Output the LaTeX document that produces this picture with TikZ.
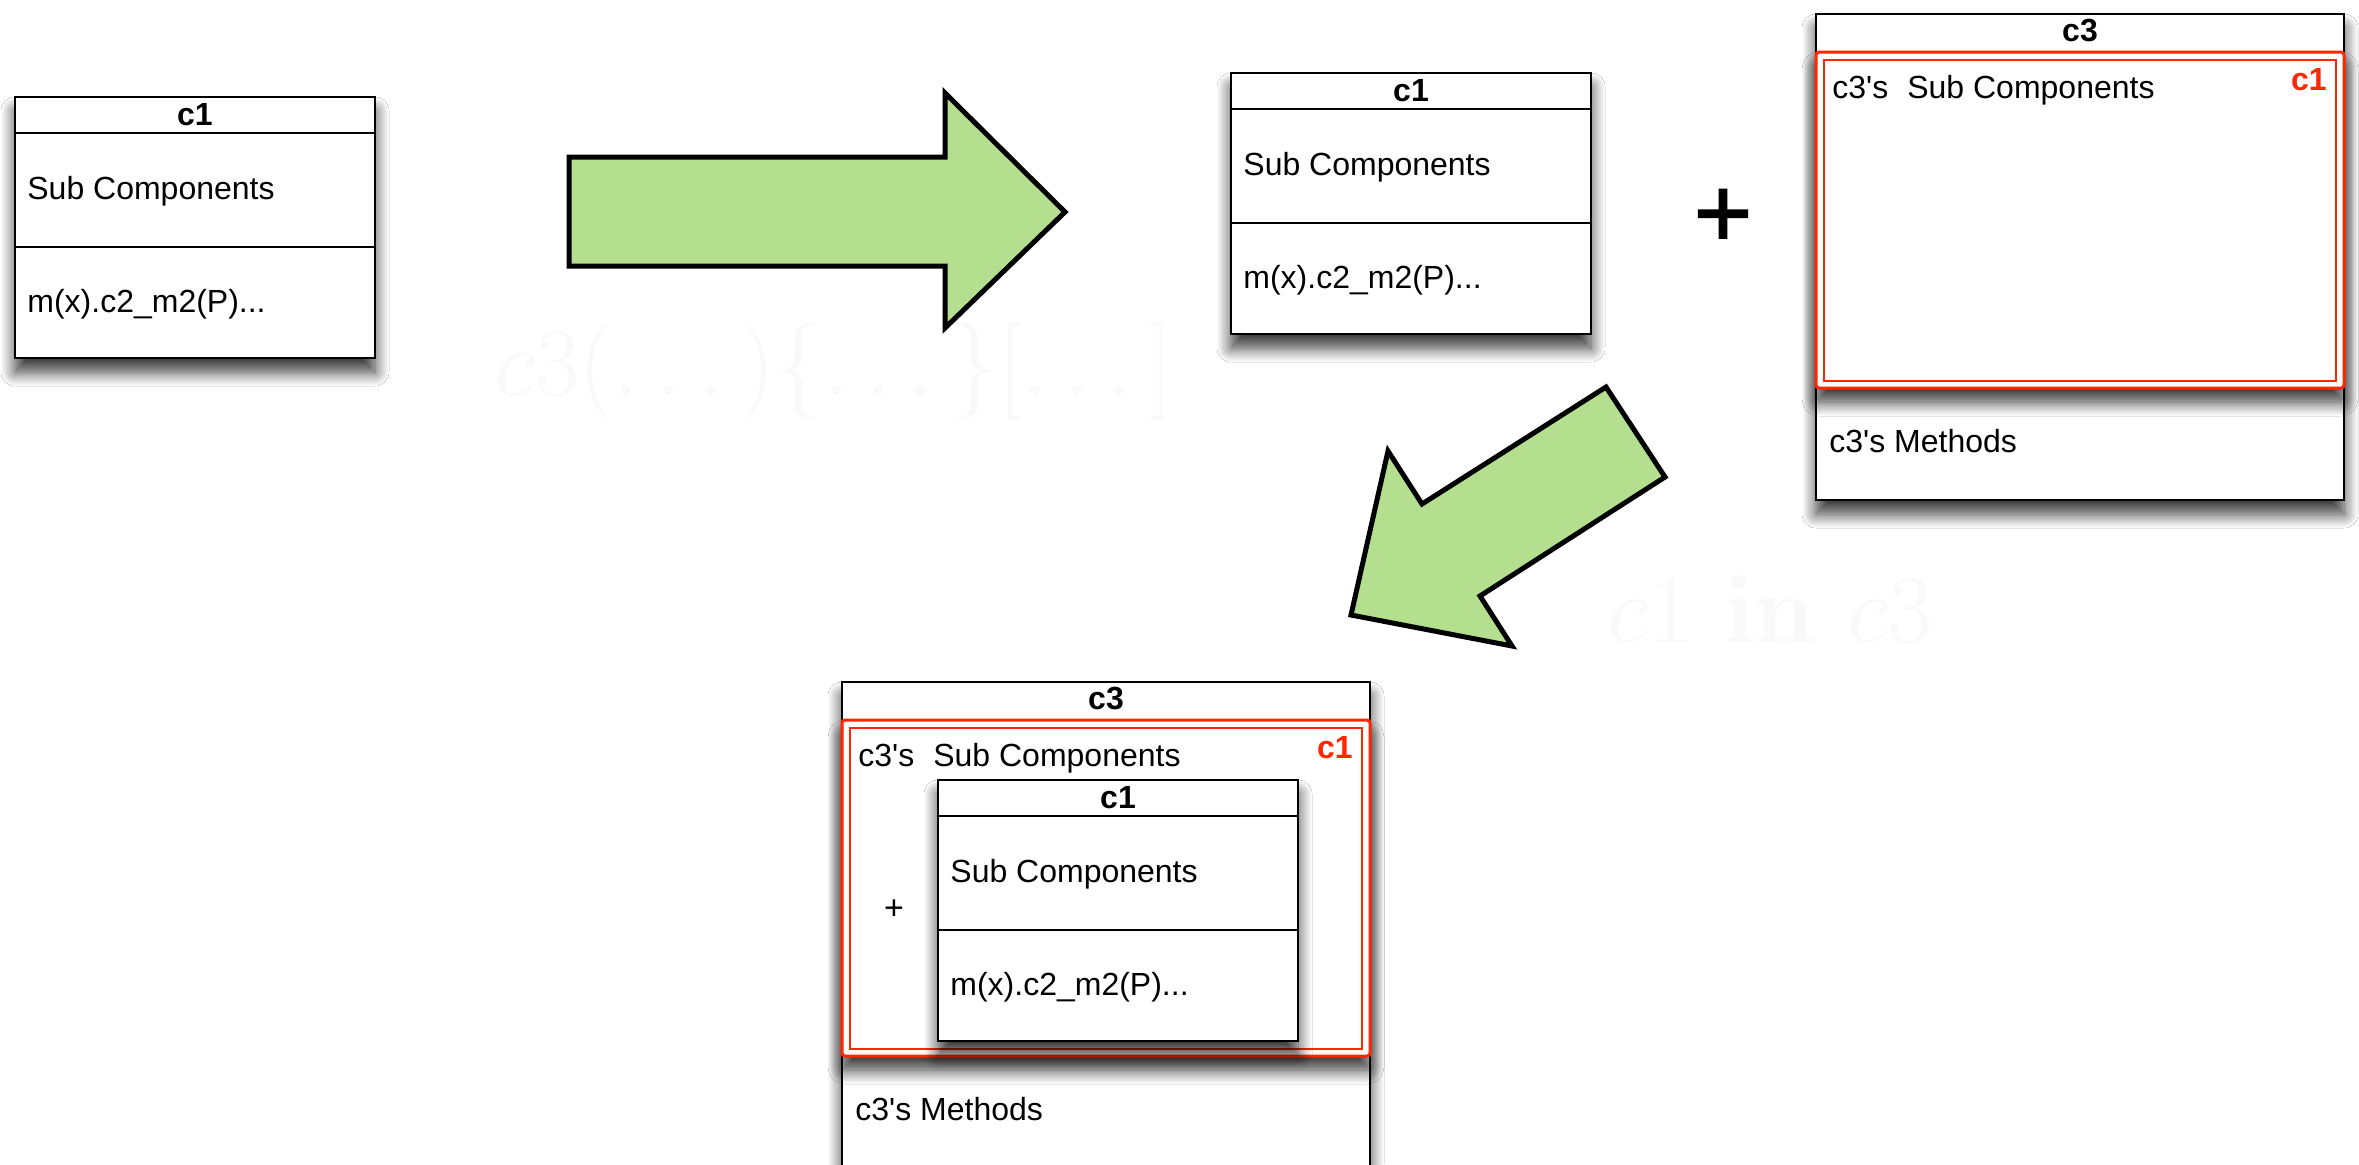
\documentclass[tikz,border=0pt]{standalone}
\usepackage[no-math]{fontspec}
\setmainfont{Liberation Sans}
\usetikzlibrary{shadows.blur}

\definecolor{arrowgreen}{RGB}{180,223,143}
\definecolor{framered}{RGB}{255,38,0}
\definecolor{ghost}{RGB}{249,249,249}

% large math captions: set at \Huge and enlarged
\newcommand{\bigcaption}[1]{\scalebox{1.94}{\Huge$#1$}}

\tikzset{
  boxline/.style={draw=black, line width=1.3pt},
  shadowed/.style={blur shadow={shadow xshift=0pt, shadow yshift=-7pt,
      shadow blur radius=7pt, shadow blur steps=12, shadow opacity=80}},
  title/.style={font=\fontsize{16}{19}\selectfont\bfseries, inner sep=0pt, anchor=base},
  entry/.style={font=\fontsize{16}{19}\selectfont, inner sep=0pt, anchor=base west},
  redtag/.style={font=\fontsize{16}{19}\selectfont\bfseries, text=framered,
      inner sep=0pt, anchor=base east},
  bigarrow/.style={fill=arrowgreen, draw=black, line width=2.5pt, line join=miter},
  ghosttext/.style={text=ghost, inner sep=0pt, anchor=base},
  redframe/.style={draw=framered, line width=1.5pt, rounded corners=1.5pt, fill=white},
  redinner/.style={draw=framered, line width=1pt},
  % class box c1: title, sub components, methods
  c1box/.pic={
    \draw[boxline, fill=white, shadowed] (0,0) rectangle (360,261);
    \draw[boxline] (0,36) -- (360,36) (0,150) -- (360,150);
    \node[title] (-title) at (180,28) {c1};
    \node[entry] (-sub) at (12,102) {Sub Components};
    \node[entry] (-meth) at (12,215) {m(x).c2\_m2(P)...};
  },
  % class box c3 with its red sub-component frame
  c3box/.pic={
    \draw[boxline, fill=white, shadowed] (0,0) rectangle (528,486);
    \draw[redframe, shadowed] (0,38) rectangle (528,374);
    \draw[redinner] (8,46) rectangle (520,367);
    \node[title] (-title) at (264,27) {c3};
    \node[entry] (-sub) at (16,84) {c3\textquotesingle s\hspace{9.5pt}Sub Components};
    \node[redtag] (-tag) at (511,76) {c1};
    \node[entry] (-meth) at (13,438) {c3\textquotesingle s Methods};
  },
}

\begin{document}
\begin{tikzpicture}[x=0.5pt, y=-0.5pt]
  \useasboundingbox (0,0) rectangle (2359,1164);
  \clip (0,0) rectangle (2359,1164);
  \fill[white] (0,0) rectangle (2359,1164);

  % faint captions
  \node[ghosttext] (sig) at (834,395)
    {\bigcaption{c3(\ldots\,)\{\ldots\,\}[\ldots\,]}};
  \node[ghosttext] (where) at (1770,642)
    {\bigcaption{c1\mkern6mu\mathbf{in}\mkern6mu c3}};

  % the component c1 on its own
  \pic (first) at (15,97) {c1box};

  % step arrow to the right
  \draw[bigarrow] (569,157) -- (945,157) -- (945,93) -- (1065,212)
    -- (945,328) -- (945,266) -- (569,266) -- cycle;

  % c1 plus the frame of c3
  \pic (second) at (1231,73) {c1box};
  \node[font=\fontsize{50}{60}\selectfont\addfontfeature{FakeBold=1.5},
        inner sep=0pt, anchor=base] (plus) at (1723,247) {+};
  \pic (host) at (1816,14) {c3box};

  % step arrow down to the left
  \draw[bigarrow] (1606,387) -- (1665,477) -- (1480,596) -- (1512,646)
    -- (1351,615) -- (1388,451) -- (1422,504) -- cycle;

  % c1 placed inside c3
  \pic (merged) at (842,682) {c3box};
  \node[font=\fontsize{17}{20}\selectfont, inner sep=0pt, anchor=base] (mplus) at (894,919) {+};
  \pic (nested) at (938,780) {c1box};
\end{tikzpicture}
\end{document}
